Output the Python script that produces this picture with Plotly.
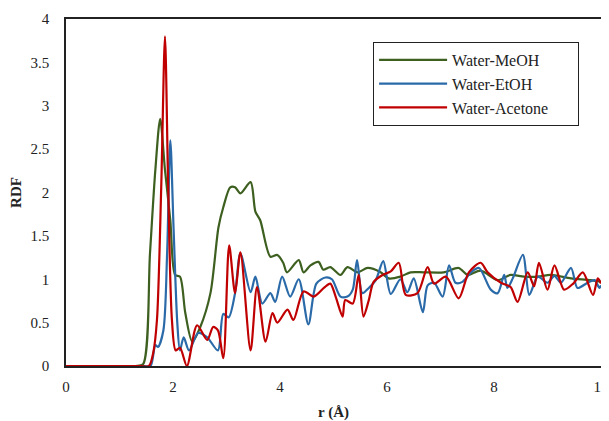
import plotly.graph_objects as go

# Water-MeOH
r_meoh = [0, 0.5, 1.0, 1.30, 1.44, 1.57, 1.67, 1.76, 1.85, 1.95, 2.04, 2.13, 2.23, 2.36, 2.51,
          2.70, 2.85, 2.94, 3.07, 3.16, 3.26, 3.45, 3.54, 3.63, 3.82, 3.95, 4.06,
          4.13, 4.35, 4.44, 4.57, 4.72, 4.81, 4.94, 5.13, 5.26, 5.45, 5.64, 5.88,
          6.03, 6.25, 6.44, 6.69, 7.06, 7.34, 7.51, 7.75, 8.07, 8.31, 8.56, 8.82,
          9.06, 9.44, 9.81, 10.0]
g_meoh = [0, 0, 0, 0, 0.02, 1.30, 2.26, 2.85, 2.26, 1.68, 1.05, 1.03, 0.61, 0.28, 0.45,
          0.84, 1.60, 1.83, 2.06, 2.06, 1.99, 2.12, 1.78, 1.68, 1.26, 1.28, 1.19,
          1.08, 1.22, 1.08, 1.16, 1.20, 1.11, 1.14, 1.05, 1.14, 1.08, 1.13, 1.08,
          1.01, 1.03, 1.08, 1.08, 1.08, 1.13, 1.05, 1.10, 0.99, 1.05, 1.03, 1.03,
          1.05, 1.01, 0.99, 0.97]

# Water-EtOH
r_etoh = [0, 0.5, 1.0, 1.45, 1.58, 1.67, 1.72, 1.82, 1.89, 1.95, 2.01, 2.08, 2.13, 2.20, 2.30, 2.47,
          2.64, 2.84, 2.94, 3.04, 3.16, 3.26, 3.45, 3.54, 3.67, 3.82, 3.91, 4.04,
          4.19, 4.35, 4.53, 4.68, 4.85, 4.97, 5.13, 5.26, 5.36, 5.44, 5.54, 5.66,
          5.79, 5.93, 6.07, 6.25, 6.38, 6.50, 6.67, 6.76, 6.88, 7.04, 7.16, 7.28,
          7.41, 7.57, 7.72, 7.94, 8.07, 8.19, 8.25, 8.35, 8.54, 8.66, 8.82, 9.00,
          9.13, 9.25, 9.44, 9.56, 9.75, 9.88, 9.97, 10.0]
g_etoh = [0, 0, 0, 0, 0, 0.24, 0.22, 0.41, 1.30, 2.60, 1.60, 0.50, 0.18, 0.33, 0.18, 0.38,
          0.33, 0.18, 0.60, 0.56, 0.84, 1.30, 0.85, 1.03, 0.72, 0.84, 0.74, 1.03,
          0.80, 1.00, 0.48, 0.95, 1.02, 1.00, 0.80, 0.80, 0.88, 1.22, 0.84, 0.90,
          0.99, 1.21, 0.83, 1.00, 0.85, 1.01, 0.62, 0.93, 0.96, 0.80, 1.16, 0.96,
          0.97, 1.08, 1.13, 0.88, 0.84, 1.05, 0.90, 1.01, 1.28, 0.82, 1.03, 0.96,
          1.04, 0.96, 1.13, 0.90, 0.96, 0.99, 0.90, 0.93]

# Water-Acetone
r_acet = [0, 0.5, 1.0, 1.40, 1.55, 1.63, 1.70, 1.78, 1.85, 1.91, 1.98, 2.05, 2.13, 2.26, 2.45, 2.64,
          2.75, 2.84, 2.94, 3.05, 3.16, 3.26, 3.45, 3.57, 3.73, 3.86, 3.95, 4.14,
          4.25, 4.44, 4.63, 4.82, 4.94, 5.04, 5.17, 5.22, 5.36, 5.47, 5.56, 5.66,
          5.75, 5.92, 6.07, 6.22, 6.35, 6.57, 6.76, 6.88, 7.10, 7.34, 7.53, 7.75,
          7.88, 8.13, 8.31, 8.44, 8.63, 8.75, 8.84, 9.00, 9.13, 9.31, 9.48, 9.66,
          9.85, 9.94, 10.0]
g_acet = [0, 0, 0, 0, 0, 0.15, 0.53, 2.06, 3.80, 2.06, 0.53, 0.18, 0.21, 0, 0.47, 0.30,
          0.45, 0.41, 0.09, 1.39, 0.84, 1.31, 0.18, 0.91, 0.28, 0.61, 0.50, 0.65,
          0.53, 0.86, 0.80, 0.90, 0.95, 0.80, 0.57, 0.76, 0.72, 1.05, 0.57, 0.76,
          0.97, 1.05, 1.09, 1.19, 0.82, 0.84, 1.14, 0.95, 1.03, 0.78, 1.08, 1.19,
          1.08, 0.96, 0.91, 0.74, 1.08, 0.92, 1.19, 0.88, 1.16, 0.88, 0.95, 1.08,
          0.82, 1.01, 0.95]

series = [
    ("Water-MeOH", r_meoh, g_meoh, "#3d5f1f"),
    ("Water-EtOH", r_etoh, g_etoh, "#2a6aa8"),
    ("Water-Acetone", r_acet, g_acet, "#c00000"),
]

serif = "Liberation Serif, Times New Roman, serif"
pad = "\u00a0" * 6

fig = go.Figure()
for name, x, y, col in series:
    assert len(x) == len(y), name
    fig.add_trace(go.Scatter(x=x, y=y, name=name + pad, mode="lines",
                             line=dict(color=col, width=2.2, shape="spline", smoothing=0.8)))

# page body adds an 8px margin, so the figure is sized to fit inside the window
fig.update_layout(
    width=601, height=413,
    margin=dict(l=58, r=8, t=11, b=55),
    paper_bgcolor="white", plot_bgcolor="white",
    font=dict(family=serif, size=15, color="#222"),
    legend=dict(x=0.574, y=0.934, xanchor="left", yanchor="top",
                bordercolor="#222", borderwidth=1, bgcolor="white",
                font=dict(family=serif, size=16, color="#222"),
                itemwidth=68, tracegroupgap=0),
)
fig.update_xaxes(range=[0, 10], dtick=2, showgrid=False, zeroline=False,
                 showline=True, linecolor="#222", linewidth=1.5, mirror=True,
                 ticks="", ticklabelstandoff=6, automargin=False,
                 title=dict(text="<b>r (Å)</b>", standoff=14,
                            font=dict(family=serif, size=15)))
fig.update_yaxes(range=[0, 4], dtick=0.5, showgrid=False, zeroline=False,
                 showline=True, linecolor="#222", linewidth=1.5, mirror=True,
                 ticks="", ticklabelstandoff=12, automargin=False,
                 title=dict(text="<b>RDF</b>", standoff=12,
                            font=dict(family=serif, size=15)))

fig.write_html("out.html")
